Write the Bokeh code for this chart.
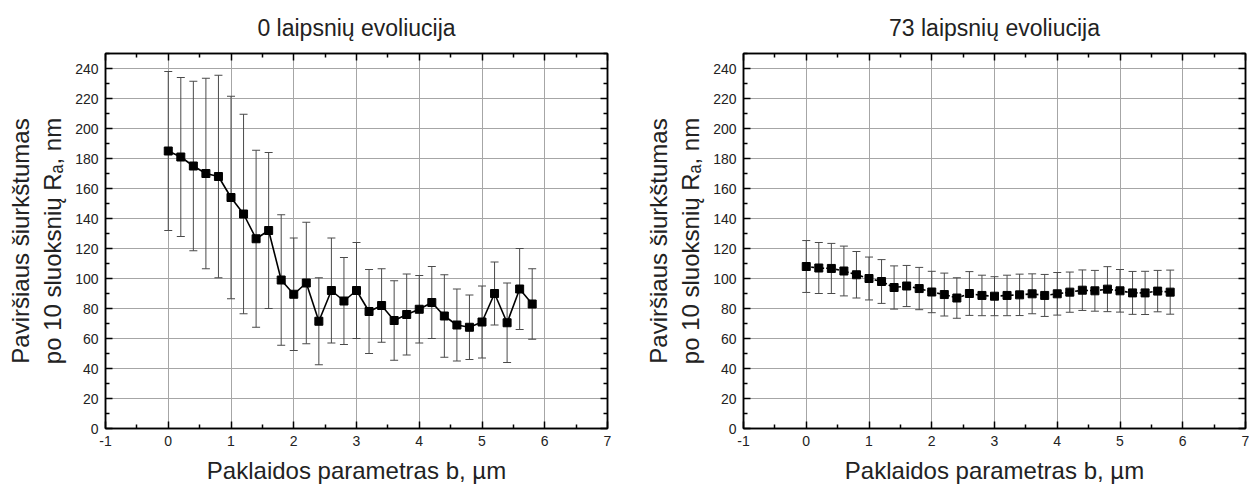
from bokeh.plotting import figure
from bokeh.layouts import row
from bokeh.models import (ColumnDataSource, Whisker, TeeHead, LinearAxis, Range1d,
                          FixedTicker)
from bokeh.embed import file_html
from bokeh.resources import INLINE

# ---- data ----
b_um = [0.0, 0.2, 0.4, 0.6, 0.8, 1.0, 1.2, 1.4, 1.6, 1.8, 2.0, 2.2, 2.4, 2.6, 2.8,
        3.0, 3.2, 3.4, 3.6, 3.8, 4.0, 4.2, 4.4, 4.6, 4.8, 5.0, 5.2, 5.4, 5.6, 5.8]

ra_0deg = [185, 181, 175, 170, 168, 154, 143, 126.5, 132, 99, 89.5, 97, 71.5, 92, 85,
           92, 78, 82, 72, 76, 79.5, 84, 75, 69, 67.5, 71, 90, 70.5, 93, 83]
err_0deg = [53, 53, 56.5, 63.5, 67.5, 67.5, 66.5, 59, 52, 43.5, 37.5, 40.5, 29, 35, 29,
            32, 28, 24.5, 26.5, 27, 22.5, 24, 27.5, 24, 21.5, 24, 21, 26.5, 27, 23.5]

ra_73deg = [108, 107, 106.7, 105, 102.5, 100, 98, 94, 95, 93.3, 91, 89.3, 87, 90, 88.7,
            88.2, 88.7, 89.1, 89.8, 88.7, 89.8, 90.9, 92.2, 91.8, 92.9, 91.8, 90.4, 90.4, 91.6, 90.9]
err_73deg = [17.3, 17, 16.7, 16.6, 15.5, 14.3, 14.6, 14.4, 13.7, 14.1, 13.8, 14.3, 13.5, 14.6, 13.5,
             13, 13.5, 13.8, 13.3, 14, 14.2, 13.4, 13.5, 13.6, 15, 14.2, 14.3, 14.4, 13.8, 14.7]

titles = ["0 laipsnių evoliucija", "73 laipsnių evoliucija"]
x_ticks = [-1, 0, 1, 2, 3, 4, 5, 6, 7]
x_tick_labels = ["-1", "0", "1", "2", "3", "4", "5", "6", "7"]
y_ticks = [0, 20, 40, 60, 80, 100, 120, 140, 160, 180, 200, 220, 240]
x_label = "Paklaidos parametras b, µm"
y_label = "Paviršiaus šiurkštumas\npo 10 sluoksnių Rₐ, nm"

FONT = "Liberation Sans"
TXT = "#222222"


def style_axis(ax, show_labels=True):
    ax.axis_line_color = "black"
    ax.axis_line_width = 1.5
    ax.major_tick_in = 7
    ax.major_tick_out = 0
    ax.minor_tick_in = 4
    ax.minor_tick_out = 0
    ax.major_tick_line_color = "black"
    ax.minor_tick_line_color = "black"
    ax.major_tick_line_width = 1.5
    ax.minor_tick_line_width = 1.5
    ax.major_label_text_font = FONT
    ax.major_label_text_font_size = "14px"
    if show_labels:
        ax.major_label_text_color = TXT
    else:
        ax.major_label_text_color = None
        ax.major_label_standoff = 0


def make_plot(title, ys, errs, dash, min_right):
    p = figure(width=None, height=484, frame_width=502, frame_height=375,
               min_border_left=105, min_border_right=min_right,
               min_border_top=53, min_border_bottom=56,
               x_range=Range1d(-1, 7), y_range=Range1d(0, 250),
               output_backend="svg", toolbar_location=None,
               title=title)
    p.title.text_font = FONT
    p.title.text_font_size = "23px"
    p.title.text_font_style = "normal"
    p.title.text_color = TXT
    p.title.align = "center"
    p.title.vertical_align = "top"
    p.title.standoff = 22

    p.outline_line_color = "black"
    p.outline_line_width = 1.5

    x_minor = [v + 0.5 for v in x_ticks[:-1]]
    y_minor = [v + 10 for v in y_ticks]
    p.xaxis.ticker = FixedTicker(ticks=x_ticks, minor_ticks=x_minor)
    p.yaxis.ticker = FixedTicker(ticks=y_ticks, minor_ticks=y_minor)
    p.xaxis.major_label_overrides = dict(zip(x_ticks, x_tick_labels))
    style_axis(p.xaxis[0])
    style_axis(p.yaxis[0])
    p.xaxis.axis_label = x_label
    p.yaxis.axis_label = y_label
    for ax in (p.xaxis[0], p.yaxis[0]):
        ax.axis_label_text_font = FONT
        ax.axis_label_text_font_size = "24px"
        ax.axis_label_text_font_style = "normal"
        ax.axis_label_text_color = TXT
    p.xaxis.axis_label_standoff = 8
    p.yaxis.axis_label_standoff = 6
    p.xaxis.major_label_standoff = 7
    p.yaxis.major_label_standoff = 7

    top = LinearAxis(ticker=FixedTicker(ticks=x_ticks, minor_ticks=x_minor))
    style_axis(top, show_labels=False)
    p.add_layout(top, "above")
    right = LinearAxis(ticker=FixedTicker(ticks=y_ticks, minor_ticks=y_minor))
    style_axis(right, show_labels=False)
    p.add_layout(right, "right")

    p.xgrid.ticker = FixedTicker(ticks=x_ticks)
    p.ygrid.ticker = FixedTicker(ticks=y_ticks)
    p.xgrid.grid_line_color = "#a6a6a6"
    p.ygrid.grid_line_color = "#a6a6a6"
    p.xgrid.grid_line_width = 1
    p.ygrid.grid_line_width = 1

    src = ColumnDataSource(dict(
        x=b_um, y=ys,
        upper=[y + e for y, e in zip(ys, errs)],
        lower=[y - e for y, e in zip(ys, errs)],
    ))
    w = Whisker(source=src, base="x", upper="upper", lower="lower",
                line_color="#4a4a4a", line_width=1,
                upper_head=TeeHead(size=8, line_color="#4a4a4a", line_width=1),
                lower_head=TeeHead(size=8, line_color="#4a4a4a", line_width=1))
    p.add_layout(w)
    if dash:
        p.line("x", "y", source=src, line_color="black", line_width=1.6, line_dash=dash)
    else:
        p.line("x", "y", source=src, line_color="black", line_width=1.6)
    p.scatter("x", "y", source=src, marker="square", size=8,
              fill_color="black", line_color="black")
    return p


p1 = make_plot(titles[0], ra_0deg, err_0deg, None, 31)
p2 = make_plot(titles[1], ra_73deg, err_73deg, "3 2", 4)
layout = row(p1, p2)

open("out.html", "w").write(file_html(layout, INLINE))
